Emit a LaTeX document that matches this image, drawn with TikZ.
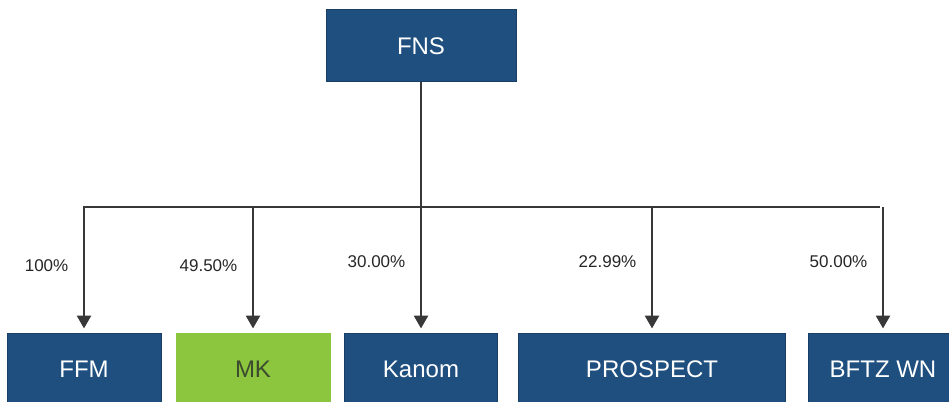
\documentclass[tikz,border=0pt]{standalone}
\usepackage{fontspec}
\setmainfont{Liberation Sans}
\usetikzlibrary{arrows.meta}
\definecolor{FNBlue}{HTML}{1F4F7F}
\definecolor{FNEdge}{HTML}{1A3F66}
\definecolor{FNGreen}{HTML}{8CC63F}
\definecolor{FNOlive}{HTML}{3C4A2E}
\definecolor{FNLine}{HTML}{383838}

\begin{document}
\begin{tikzpicture}[
    x=1pt, y=-1pt,
    % arrow tip for all connectors
    >={Triangle[length=13pt, width=14pt]},
    line width=2.7pt,
    box/.style={line width=1pt, minimum height=72pt,
        inner sep=0pt, font=\fontsize{24}{24}\selectfont},
    pct/.style={anchor=east, text=black!85, font=\fontsize{17}{17}\selectfont},
    link/.style={draw=FNLine, shorten >=4pt}
]
    \clip (0,0) rectangle (949,401);

    \def\bary{207}

    % --- 1. top box ---
    \node[box, fill=FNBlue, draw=FNEdge, text=white, minimum width=190pt] (fns) at (421,46) {FNS};

    % --- 2. lower boxes ---
    \foreach \name/\x/\w/\col/\ecol/\tcol/\txt in {
        ffm/84/154/FNBlue/FNEdge/white/FFM,
        mk/253/154/FNGreen/FNGreen/FNOlive/MK,
        kanom/421/153/FNBlue/FNEdge/white/Kanom,
        prospect/652/267/FNBlue/FNEdge/white/PROSPECT,
        bftz/883/150/FNBlue/FNEdge/white/BFTZ WN
    } {
        \node[box, fill=\col, draw=\ecol, text=\tcol, minimum width=\w pt] (\name) at (\x,369) {\txt};
    }

    % --- 3. connectors ---
    \coordinate (bar) at (421,\bary);
    \draw[link, line cap=rect] (ffm.north |- bar) -- (bftz.north |- bar);
    \draw[link, ->] (fns.south) -- (kanom.north);
    \foreach \name in {ffm, mk, prospect, bftz} {
        \draw[link, ->] (\name.north |- bar) -- (\name.north);
    }

    % --- 4. shares ---
    \foreach \name/\ly/\lab in {
        ffm/266/100\%,
        mk/266/49.50\%,
        kanom/262/30.00\%,
        prospect/262/22.99\%,
        bftz/262/50.00\%
    } {
        \node[pct] (\name-pct) at ([xshift=-11pt] \name.north |- 0,\ly) {\lab};
    }

\end{tikzpicture}
\end{document}
